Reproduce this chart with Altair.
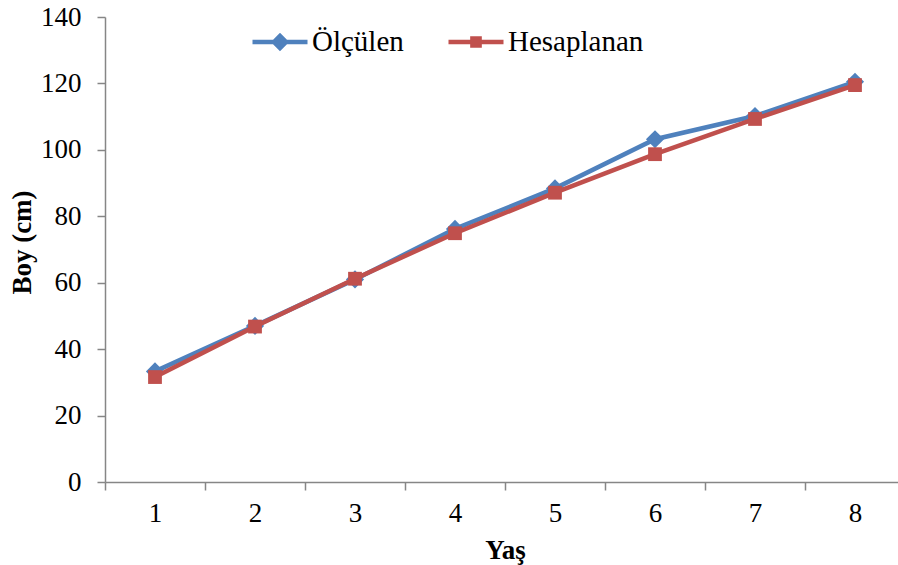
import altair as alt
import pandas as pd

# Age (years) and height (cm): measured vs. computed
yas = [1, 2, 3, 4, 5, 6, 7, 8]
olculen = [33.3, 47.0, 61.0, 76.2, 88.4, 103.2, 110.2, 120.5]
hesaplanan = [31.6, 46.8, 61.2, 74.9, 87.1, 98.7, 109.3, 119.5]

seriler = ["Ölçülen", "Hesaplanan"]
renkler = ["#4F81BD", "#C0504D"]

df = pd.concat(
    [
        pd.DataFrame({"Yaş": yas, "Boy": olculen, "Seri": seriler[0]}),
        pd.DataFrame({"Yaş": yas, "Boy": hesaplanan, "Seri": seriler[1]}),
    ],
    ignore_index=True,
)

FONT = "Liberation Serif"
AXIS_GRAY = "#868686"

x_scale = alt.Scale(domain=[0.5, 8.43], nice=False, zero=False)
y_scale = alt.Scale(domain=[0, 140], nice=False)

x_axis = alt.Axis(
    title="Yaş",
    values=[0.5, 1, 1.5, 2, 2.5, 3, 3.5, 4, 4.5, 5, 5.5, 6, 6.5, 7, 7.5, 8],
    labelExpr="datum.value % 1 === 0 ? format(datum.value, 'd') : ''",
    tickOpacity={"condition": {"test": "datum.value % 1 === 0", "value": 0}, "value": 1},
    grid=False,
    tickSize=8,
    tickColor=AXIS_GRAY,
    domainColor=AXIS_GRAY,
    domainWidth=1.5,
    tickWidth=1.5,
    labelFont=FONT,
    labelFontSize=27,
    labelColor="black",
    labelPadding=10,
    labelFlush=False,
    labelOverlap=False,
    titleFont=FONT,
    titleFontSize=27,
    titleFontWeight="bold",
    titleColor="black",
    titleX=400,
    titleY=76,
    titleBaseline="alphabetic",
    titleAlign="center",
)

y_axis = alt.Axis(
    title="Boy (cm)",
    values=[0, 20, 40, 60, 80, 100, 120, 140],
    grid=False,
    tickSize=8,
    tickColor=AXIS_GRAY,
    domainColor=AXIS_GRAY,
    domainWidth=1.5,
    tickWidth=1.5,
    labelFont=FONT,
    labelFontSize=27,
    labelColor="black",
    labelPadding=16,
    labelFlush=False,
    titleFont=FONT,
    titleFontSize=27,
    titleFontWeight="bold",
    titleColor="black",
    titleAngle=-90,
    titleX=-83,
    titleY=225,
    titleAlign="center",
    titleBaseline="middle",
)

# Legend symbols: line segment with the series marker on it
sym_olculen = "M-1,0L1,0M-0.22,0L0,-0.22L0.22,0L0,0.22Z"
sym_hesap = "M-1,0L1,0M-0.13,-0.13L0.13,-0.13L0.13,0.13L-0.13,0.13Z"


def series_legend(x, symbol, renk):
    return alt.Legend(
        title=None,
        orient="none",
        legendX=x,
        legendY=-5,
        direction="horizontal",
        symbolType=symbol,
        symbolSize=3025,
        symbolStrokeWidth=4.5,
        symbolFillColor=renk,
        symbolStrokeColor=renk,
        symbolOpacity=1,
        labelFont=FONT,
        labelFontSize=29,
        labelColor="black",
        labelOffset=2,
        labelLimit=0,
        padding=0,
    )


base = alt.Chart(df).encode(
    x=alt.X("Yaş:Q", scale=x_scale, axis=x_axis),
    y=alt.Y("Boy:Q", scale=y_scale, axis=y_axis),
)


def series_line(i, legend_x, symbol):
    return (
        base.transform_filter(alt.datum.Seri == seriler[i])
        .mark_line(strokeWidth=4.5)
        .encode(
            color=alt.Color(
                "Seri:N",
                scale=alt.Scale(domain=[seriler[i]], range=[renkler[i]]),
                legend=series_legend(legend_x, symbol, renkler[i]),
            ),
            order=alt.Order("Yaş:Q"),
        )
    )


line_olc = series_line(0, 145, sym_olculen)
line_hes = series_line(1, 341, sym_hesap)

diamonds = base.transform_filter(alt.datum.Seri == seriler[0]).mark_point(
    shape="diamond", filled=True, size=330, opacity=1, color=renkler[0]
)
squares = base.transform_filter(alt.datum.Seri == seriler[1]).mark_point(
    shape="square", filled=True, size=190, opacity=1, color=renkler[1]
)

chart = (
    alt.layer(line_olc, diamonds, line_hes, squares)
    .resolve_scale(color="independent")
    .resolve_legend(color="independent")
    .properties(
        width=793,
        height=465,
        autosize=alt.AutoSizeParams(type="none"),
        padding={"left": 105, "top": 17, "right": 0, "bottom": 83},
        background="white",
    )
    .configure(font=FONT)
    .configure_view(stroke=None)
)

chart.save("out.html", embed_options={"renderer": "svg", "actions": False})
